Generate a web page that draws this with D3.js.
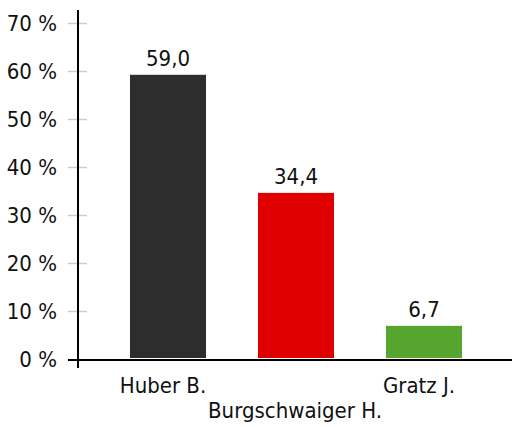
<!DOCTYPE html>
<html>
<head>
<meta charset="utf-8">
<script src="https://cdn.jsdelivr.net/npm/d3@7"></script>
<style>
  body { margin: 0; background: #fff; }
  text { font-family: "DejaVu Sans Condensed", "DejaVu Sans", sans-serif; font-stretch: condensed; fill: #111; }
</style>
</head>
<body>
<svg id="chart" width="512" height="427"></svg>
<script>
const candidates = ["Huber B.", "Burgschwaiger H.", "Gratz J."];
const shares = [59.0, 34.4, 6.7];
const barColors = ["#2d2d2d", "#e00000", "#55a52f"];
const yTicks = [0, 10, 20, 30, 40, 50, 60, 70];

const svg = d3.select("#chart");
const fmt = v => v.toFixed(1).replace(".", ",");
const fontSize = "22px";

const x = d3.scaleBand()
    .domain(candidates)
    .range([104, 488])
    .paddingInner(0.406)
    .paddingOuter(0.203);

const y = d3.scaleLinear()
    .domain([0, 70])
    .range([358, 22]);

const axisX = 78;

// y ticks + labels
const tick = svg.append("g").selectAll("g")
    .data(yTicks)
    .join("g")
    .attr("transform", d => `translate(0,${y(d) + 1.5})`);

tick.filter(d => d > 0).append("line")
    .attr("x1", 68).attr("x2", 87)
    .attr("stroke", "#cccccc")
    .attr("stroke-width", 1.5);

tick.append("text")
    .attr("x", 57)
    .attr("dy", "0.35em")
    .attr("text-anchor", "end")
    .style("font-size", fontSize)
    .text(d => `${d} %`);

// bars
svg.append("g").selectAll("rect")
    .data(shares)
    .join("rect")
    .attr("x", (d, i) => x(candidates[i]))
    .attr("width", x.bandwidth())
    .attr("y", d => y(d))
    .attr("height", d => y(0) - y(d))
    .attr("fill", (d, i) => barColors[i]);

// value labels
svg.append("g").selectAll("text")
    .data(shares)
    .join("text")
    .attr("x", (d, i) => x(candidates[i]) + x.bandwidth() / 2)
    .attr("y", d => y(d) - 9)
    .attr("text-anchor", "middle")
    .style("font-size", fontSize)
    .text(fmt);

// axes lines
svg.append("line")
    .attr("x1", axisX).attr("x2", axisX)
    .attr("y1", 10).attr("y2", 368)
    .attr("stroke", "#000").attr("stroke-width", 2);

svg.append("line")
    .attr("x1", 68).attr("x2", 512)
    .attr("y1", y(0) + 2).attr("y2", y(0) + 2)
    .attr("stroke", "#000").attr("stroke-width", 2);

// category labels, staggered
svg.append("g").selectAll("text")
    .data(candidates)
    .join("text")
    .attr("x", d => x(d) + x.bandwidth() / 2)
    .attr("dx", (d, i) => i % 2 ? -1 : -5)
    .attr("y", (d, i) => i % 2 ? 418 : 393)
    .attr("text-anchor", "middle")
    .style("font-size", fontSize)
    .text(d => d);
</script>
</body>
</html>
